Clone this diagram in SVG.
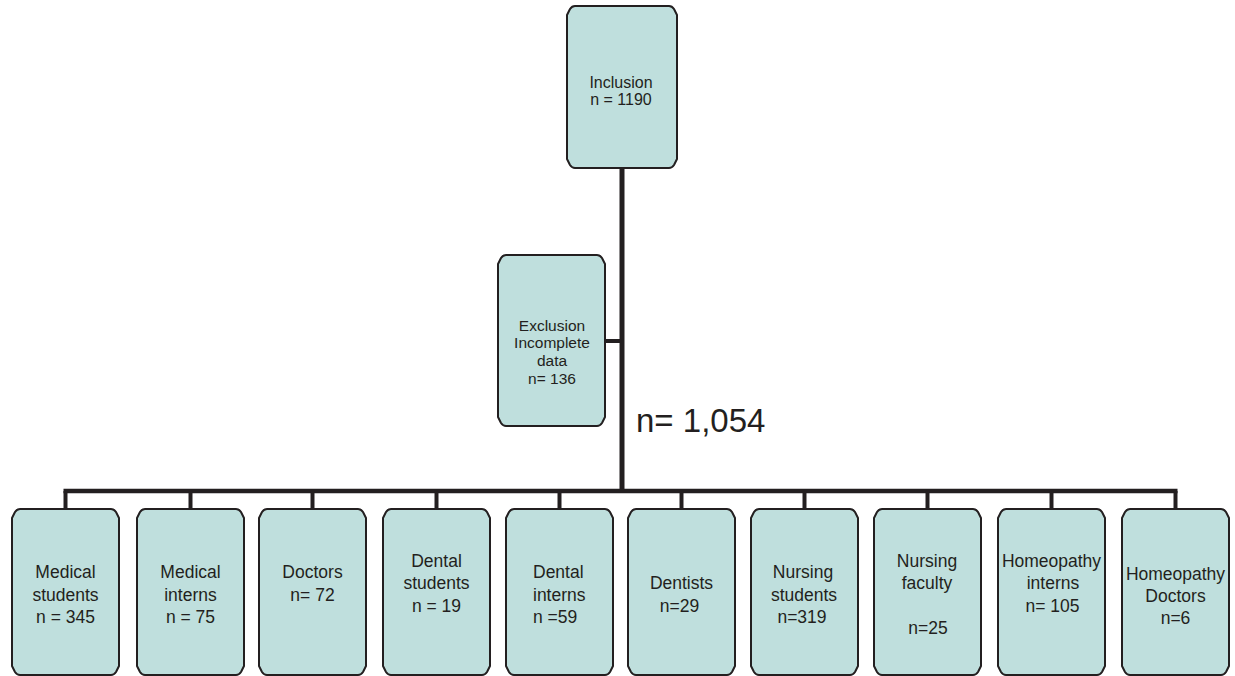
<svg xmlns="http://www.w3.org/2000/svg" width="1235" height="676" viewBox="0 0 1235 676">
<style>
.box{fill:#bfdfdd;stroke:#231f20;stroke-width:2;stroke-linejoin:round}
.t{font-family:"Liberation Sans",Arial,sans-serif;fill:#231f20;text-anchor:middle}
.b{font-size:17.5px}
.s{font-size:15.5px}
.ln{stroke:#231f20;fill:none;stroke-linecap:butt}
</style>
<rect width="1235" height="676" fill="#ffffff"/>
<g id="connectors">
<line class="ln" x1="622" y1="168" x2="622" y2="493" stroke-width="5"/>
<line class="ln" x1="605" y1="341" x2="620" y2="341" stroke-width="4"/>
<line class="ln" x1="63.5" y1="491" x2="1177.5" y2="491" stroke-width="4.5"/>
<line class="ln" x1="65.5" y1="491" x2="65.5" y2="509" stroke-width="4"/>
<line class="ln" x1="190.5" y1="491" x2="190.5" y2="509" stroke-width="4"/>
<line class="ln" x1="312.5" y1="491" x2="312.5" y2="509" stroke-width="4"/>
<line class="ln" x1="436.5" y1="491" x2="436.5" y2="509" stroke-width="4"/>
<line class="ln" x1="559.5" y1="491" x2="559.5" y2="509" stroke-width="4"/>
<line class="ln" x1="681.5" y1="491" x2="681.5" y2="509" stroke-width="4"/>
<line class="ln" x1="804.5" y1="491" x2="804.5" y2="509" stroke-width="4"/>
<line class="ln" x1="927.5" y1="491" x2="927.5" y2="509" stroke-width="4"/>
<line class="ln" x1="1051.5" y1="491" x2="1051.5" y2="509" stroke-width="4"/>
<line class="ln" x1="1175.5" y1="491" x2="1175.5" y2="509" stroke-width="4"/>
</g>
<g id="inclusion">
<path class="box" d="M575,6 H669 Q672,6 674,9 L677,15 V159 L674,165 Q672,168 669,168 H575 Q572,168 570,165 L567,159 V15 L570,9 Q572,6 575,6 Z"/>
<text class="t" x="621" y="87.5" style="font-size:16px">Inclusion</text>
<text class="t" x="621" y="105" style="font-size:16px">n = 1190</text>
</g>
<g id="exclusion">
<path class="box" d="M506,255 H597 Q600,255 602,258 L605,264 V417 L602,423 Q600,426 597,426 H506 Q503,426 501,423 L498,417 V264 L501,258 Q503,255 506,255 Z"/>
<text class="t s" x="552" y="330.5">Exclusion</text>
<text class="t s" x="552" y="348.3">Incomplete</text>
<text class="t s" x="552" y="366">data</text>
<text class="t s" x="552" y="384">n= 136</text>
</g>
<g id="total">
<text x="636" y="432" style="font-family:'Liberation Sans',Arial,sans-serif;font-size:33px;fill:#231f20">n= 1,054</text>
</g>
<g id="medical-students">
<path class="box" d="M20,509 H111 Q114,509 116,512 L119,518 V666 L116,672 Q114,675 111,675 H20 Q17,675 15,672 L12,666 V518 L15,512 Q17,509 20,509 Z"/>
<text class="t b" x="65.5" y="578.3">Medical</text>
<text class="t b" x="65.5" y="600.7">students</text>
<text class="t b" x="65.5" y="623.3">n = 345</text>
</g>
<g id="medical-interns">
<path class="box" d="M145,509 H236 Q239,509 241,512 L244,518 V666 L241,672 Q239,675 236,675 H145 Q142,675 140,672 L137,666 V518 L140,512 Q142,509 145,509 Z"/>
<text class="t b" x="190.5" y="578.3">Medical</text>
<text class="t b" x="190.5" y="600.7">interns</text>
<text class="t b" x="190.5" y="623.3">n = 75</text>
</g>
<g id="doctors">
<path class="box" d="M267,509 H358 Q361,509 363,512 L366,518 V666 L363,672 Q361,675 358,675 H267 Q264,675 262,672 L259,666 V518 L262,512 Q264,509 267,509 Z"/>
<text class="t b" x="312.5" y="577.7">Doctors</text>
<text class="t b" x="312.5" y="600.7">n= 72</text>
</g>
<g id="dental-students">
<path class="box" d="M391,509 H482 Q485,509 487,512 L490,518 V666 L487,672 Q485,675 482,675 H391 Q388,675 386,672 L383,666 V518 L386,512 Q388,509 391,509 Z"/>
<text class="t b" x="436.5" y="566.7">Dental</text>
<text class="t b" x="436.5" y="589.3">students</text>
<text class="t b" x="436.5" y="611.7">n = 19</text>
</g>
<g id="dental-interns">
<path class="box" d="M514,509 H605 Q608,509 610,512 L613,518 V666 L610,672 Q608,675 605,675 H514 Q511,675 509,672 L506,666 V518 L509,512 Q511,509 514,509 Z"/>
<text class="t b" x="533" y="578.3" style="text-anchor:start">Dental</text>
<text class="t b" x="533" y="600.7" style="text-anchor:start">interns</text>
<text class="t b" x="533" y="623.3" style="text-anchor:start">n =59</text>
</g>
<g id="dentists">
<path class="box" d="M636,509 H727 Q730,509 732,512 L735,518 V666 L732,672 Q730,675 727,675 H636 Q633,675 631,672 L628,666 V518 L631,512 Q633,509 636,509 Z"/>
<text class="t b" x="681.5" y="589.3">Dentists</text>
<text class="t b" x="679.5" y="611.7">n=29</text>
</g>
<g id="nursing-students">
<path class="box" d="M759,509 H850 Q853,509 855,512 L858,518 V666 L855,672 Q853,675 850,675 H759 Q756,675 754,672 L751,666 V518 L754,512 Q756,509 759,509 Z"/>
<text class="t b" x="803" y="578.3">Nursing</text>
<text class="t b" x="804" y="600.7">students</text>
<text class="t b" x="802" y="623.3">n=319</text>
</g>
<g id="nursing-faculty">
<path class="box" d="M882,509 H973 Q976,509 978,512 L981,518 V666 L978,672 Q976,675 973,675 H882 Q879,675 877,672 L874,666 V518 L877,512 Q879,509 882,509 Z"/>
<text class="t b" x="927" y="566.7">Nursing</text>
<text class="t b" x="927" y="589.3">faculty</text>
<text class="t b" x="928" y="634">n=25</text>
</g>
<g id="homeopathy-interns">
<path class="box" d="M1006,509 H1097 Q1100,509 1102,512 L1105,518 V666 L1102,672 Q1100,675 1097,675 H1006 Q1003,675 1001,672 L998,666 V518 L1001,512 Q1003,509 1006,509 Z"/>
<text class="t b" x="1051.5" y="566.7">Homeopathy</text>
<text class="t b" x="1053" y="589.3">interns</text>
<text class="t b" x="1052.5" y="611.7">n= 105</text>
</g>
<g id="homeopathy-doctors">
<path class="box" d="M1130,509 H1221 Q1224,509 1226,512 L1229,518 V666 L1226,672 Q1224,675 1221,675 H1130 Q1127,675 1125,672 L1122,666 V518 L1125,512 Q1127,509 1130,509 Z"/>
<text class="t b" x="1175.5" y="580">Homeopathy</text>
<text class="t b" x="1175.5" y="601.7">Doctors</text>
<text class="t b" x="1175.5" y="624">n=6</text>
</g>
</svg>
